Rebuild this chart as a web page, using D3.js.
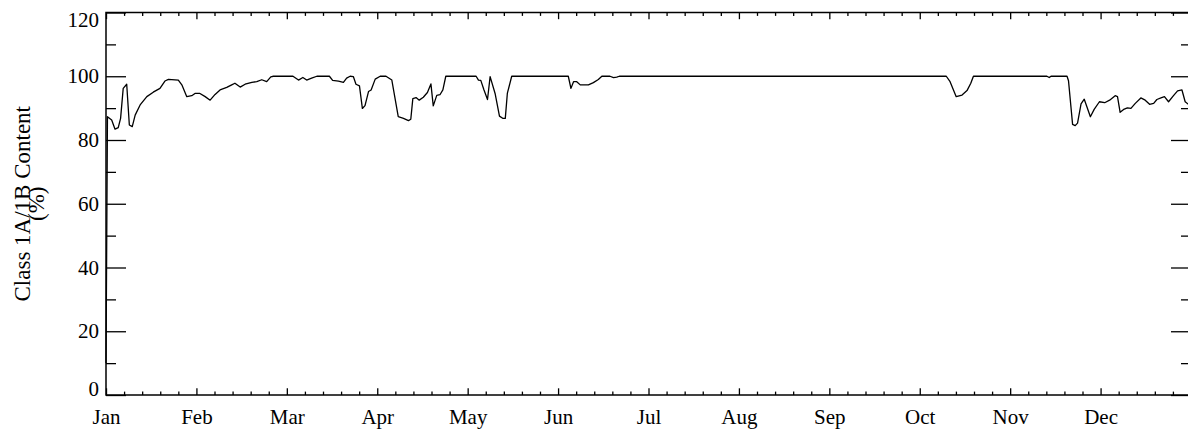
<!DOCTYPE html>
<html>
<head>
<meta charset="utf-8">
<script src="https://cdn.jsdelivr.net/npm/d3@7"></script>
<style>
  body { margin: 0; background: #fff; }
  svg { display: block; }
</style>
</head>
<body>
<div id="chart"></div>
<script>
// month ticks sit every 31 days on this axis
const monthLabels = ["Jan", "Feb", "Mar", "Apr", "May", "Jun", "Jul", "Aug", "Sep", "Oct", "Nov", "Dec"];
const monthDays = [0, 31, 62, 93, 124, 155, 186, 217, 248, 279, 310, 341, 372];
const yTicks = [0, 20, 40, 60, 80, 100, 120];
const yMinorTicks = [10, 30, 50, 70, 90, 110];

// day of year / class 1A+1B content (%)
const days = [
  0, 0.5, 1.95, 3.1, 4.2, 5.0, 5.9, 7.1, 8.0, 9.0, 10.0, 11.7, 14.0, 16.2, 18.5, 20.2, 21.4,
  24.8, 26.0, 27.7, 29.4, 30.5, 32.2, 34.0, 35.7, 37.4, 39.1, 41.4, 43.1, 44.2, 46.0, 47.7,
  50.0, 51.7, 53.4, 55.1, 56.5, 57.4, 64.1, 66.0, 67.5, 68.8, 70.5, 72.3, 76.6, 77.7, 79.7,
  81.4, 82.5, 83.7, 84.8, 85.7, 86.9, 87.9, 88.8, 90.0, 90.9, 92.3, 94.0, 96.0, 98.0, 100.2,
  102.0, 103.7, 104.5, 105.2, 106.3, 107.4, 108.8, 110.2, 111.4, 112.2, 113.4, 114.5, 115.5,
  116.5, 126.9, 127.7, 128.5, 129.6, 130.8, 131.7, 133.4, 134.9, 136.0, 136.9, 137.6, 139.1,
  158.5, 159.4, 160.3, 161.4, 162.6, 165.4, 167.1, 168.8, 170.0, 172.8, 174.0, 175.1, 176.0,
  288.1, 289.4, 291.5, 293.5, 295.2, 296.5, 297.4, 322.6, 323.4, 324.0, 329.5, 330.0, 331.4,
  332.3, 333.1, 334.3, 335.4, 337.5, 338.8, 340.6, 342.4, 344.1, 346.0, 346.8, 347.7, 348.9,
  350.2, 351.4, 352.9, 354.8, 356.3, 357.8, 359.2, 360.3, 361.7, 362.9, 364.3, 366.0, 367.4,
  368.9, 370.0, 371.1
];
const content = [
  10, 87.3, 86.3, 83.4, 83.9, 86.8, 96.2, 97.5, 84.7, 84.2, 87.8, 91, 93.6, 95, 96.2, 98.5, 99,
  98.8, 97.3, 93.6, 93.9, 94.6, 94.6, 93.6, 92.5, 94.3, 95.7, 96.5, 97.3, 97.8, 96.6, 97.5,
  98.1, 98.3, 98.9, 98.3, 99.8, 100, 100, 98.8, 99.6, 98.8, 99.4, 100, 100, 98.7, 98.5,
  98.1, 99.4, 100, 99.9, 97.5, 97, 89.9, 90.8, 95.2, 95.7, 99.1, 100, 100, 98.8, 87.3,
  86.8, 86.1, 86.5, 93, 93.3, 92.5, 93.4, 94.9, 97.6, 90.7, 94, 94.2, 95.7,
  100, 100, 98.8, 98.7, 95.7, 92.7, 99.9, 94.6, 87.5, 86.8, 86.8, 94.6, 100,
  100, 96.2, 98.3, 98.3, 97.3, 97.3, 98, 99, 100, 100, 99.6, 99.7, 100,
  100, 98.3, 93.6, 94.1, 95.5, 97.8, 100, 100, 99.6, 100, 100, 98.6, 84.9,
  84.5, 85.3, 91.3, 92.8, 87.3, 89.6, 92, 91.7, 92.5, 93.9, 93.6, 88.7, 89.6,
  90.1, 89.9, 91.5, 93.2, 92.5, 91.2, 91.5, 92.7, 93.2, 93.6, 92, 93.9, 95.4,
  95.7, 92, 91.2
];

const W = 1188, H = 433;
const margin = { top: 12.5, left: 106, bottom: 38 };
const plotW = 1085; // runs a little past the window edge, as in the original
const plotH = H - margin.top - margin.bottom;
const serif = "'Liberation Serif', 'Times New Roman', Times, 'DejaVu Serif', serif";

const svg = d3.select("#chart").append("svg")
  .attr("width", W)
  .attr("height", H);

const x = d3.scaleLinear().domain([0, 372]).range([margin.left, margin.left + plotW]);
const y = d3.scaleLinear().domain([0, 120]).range([margin.top + plotH, margin.top]);

// minor x ticks: five per month interval
const xMinor = [];
for (let i = 0; i < monthDays.length - 1; i++) {
  for (let k = 1; k < 5; k++) xMinor.push(monthDays[i] + k * 31 / 5);
}

const majorLen = 20, minorLen = 10;   // on the y axes
const xMajorLen = 6.7, xMinorLen = 3.4;

function clean(g) {
  g.attr("font-family", serif);
  g.select(".domain").remove();
  g.selectAll(".tick line").attr("stroke", "#000").attr("stroke-width", 1.3);
  g.selectAll("text").attr("fill", "#000").style("font-family", serif).style("font-size", "21px");
}

// bottom axis with month labels
svg.append("g")
  .attr("transform", `translate(0,${y(0)})`)
  .call(d3.axisBottom(x).tickValues(monthDays.slice(0, 12))
    .tickFormat((d, i) => monthLabels[i]).tickSize(-xMajorLen).tickPadding(14))
  .call(clean);
svg.append("g")
  .attr("transform", `translate(0,${y(0)})`)
  .call(d3.axisBottom(x).tickValues(xMinor).tickFormat("").tickSize(-xMinorLen))
  .call(clean);

// top axis, ticks only
svg.append("g")
  .attr("transform", `translate(0,${y(120)})`)
  .call(d3.axisTop(x).tickValues(monthDays).tickFormat("").tickSize(-xMajorLen))
  .call(clean);
svg.append("g")
  .attr("transform", `translate(0,${y(120)})`)
  .call(d3.axisTop(x).tickValues(xMinor).tickFormat("").tickSize(-xMinorLen))
  .call(clean);

// left axis with labels; end labels are kept inside the axis span
svg.append("g")
  .attr("transform", `translate(${margin.left},0)`)
  .call(d3.axisLeft(y).tickValues(yTicks).tickSize(-majorLen).tickPadding(7))
  .call(clean)
  .call(g => g.selectAll("text").attr("dy", d => d === 0 ? "0em" : d === 120 ? "0.68em" : "0.32em"));
svg.append("g")
  .attr("transform", `translate(${margin.left},0)`)
  .call(d3.axisLeft(y).tickValues(yMinorTicks).tickFormat("").tickSize(-minorLen))
  .call(clean);

// right axis, ticks only
svg.append("g")
  .attr("transform", `translate(${margin.left + plotW},0)`)
  .call(d3.axisRight(y).tickValues(yTicks).tickFormat("").tickSize(-majorLen))
  .call(clean);
svg.append("g")
  .attr("transform", `translate(${margin.left + plotW},0)`)
  .call(d3.axisRight(y).tickValues(yMinorTicks).tickFormat("").tickSize(-minorLen))
  .call(clean);

// frame
svg.append("rect")
  .attr("x", margin.left)
  .attr("y", margin.top)
  .attr("width", plotW)
  .attr("height", plotH)
  .attr("fill", "none")
  .attr("stroke", "#000")
  .attr("stroke-width", 1.5);

// data line
const line = d3.line()
  .x((d, i) => x(days[i]))
  .y(d => y(d));

svg.append("path")
  .datum(content)
  .attr("fill", "none")
  .attr("stroke", "#000")
  .attr("stroke-width", 1.3)
  .attr("stroke-linejoin", "round")
  .attr("d", line);

// y title, two lines
const cy = margin.top + plotH / 2;
const title = svg.append("text")
  .attr("transform", `translate(0,${cy}) rotate(-90)`)
  .attr("text-anchor", "middle")
  .attr("fill", "#000")
  .style("font-family", serif)
  .style("font-size", "23px");
title.append("tspan").attr("x", 0).attr("y", 30).text("Class 1A/1B Content");
title.append("tspan").attr("x", 0).attr("y", 44).text("(%)");
</script>
</body>
</html>
